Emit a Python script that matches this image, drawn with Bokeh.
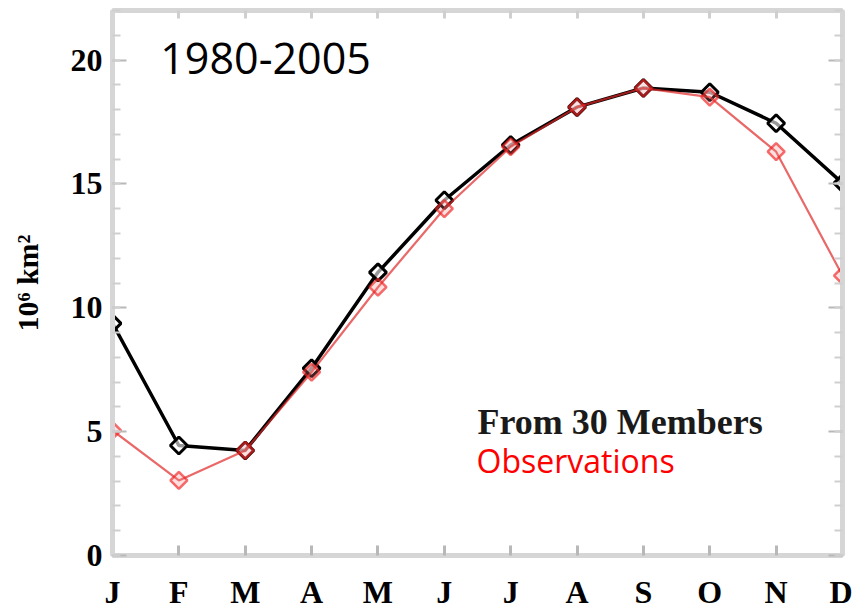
import math
from bokeh.plotting import figure
from bokeh.models import Range1d, FixedTicker, LinearAxis, Label, ColumnDataSource
from bokeh.embed import file_html
from bokeh.resources import INLINE

# Monthly mean sea-ice extent (10^6 km^2), 1980-2005
months = ["J", "F", "M", "A", "M", "J", "J", "A", "S", "O", "N", "D"]
month_idx = list(range(12))
members_mean = [9.37, 4.44, 4.24, 7.56, 11.43, 14.34, 16.57, 18.10, 18.87, 18.70, 17.45, 15.03]
observations = [5.05, 3.03, 4.24, 7.40, 10.83, 14.00, 16.50, 18.10, 18.87, 18.50, 16.30, 11.30]

y_major = [0, 5, 10, 15, 20]
y_minor = list(range(0, 23))

FRAME = "#d6d6d6"
TICK = "#b8b8b8"
SERIF = "Liberation Serif"

p = figure(width=852, height=615, output_backend="svg", toolbar_location=None,
           x_range=Range1d(0, 11), y_range=Range1d(0, 22),
           min_border_left=112, min_border_right=10, min_border_top=10,
           min_border_bottom=60, x_axis_location="below", y_axis_location="left")
p.background_fill_color = "white"
p.border_fill_color = "white"
p.outline_line_color = FRAME
p.outline_line_width = 4
p.xgrid.visible = False
p.ygrid.visible = False

# bottom month axis
xa = p.xaxis[0]
xa.ticker = FixedTicker(ticks=month_idx)
xa.major_label_overrides = {i: m for i, m in zip(month_idx, months)}
xa.major_label_text_font = SERIF
xa.major_label_text_font_style = "bold"
xa.major_label_text_font_size = "32px"
xa.major_label_text_color = "black"
xa.major_label_standoff = 18
xa.axis_line_color = FRAME
xa.axis_line_width = 5
xa.major_tick_in = 10
xa.major_tick_out = 0
xa.major_tick_line_color = TICK
xa.major_tick_line_width = 3
xa.minor_tick_line_color = None

# left value axis
ya = p.yaxis[0]
ya.ticker = FixedTicker(ticks=y_major, minor_ticks=y_minor)
ya.major_label_text_font = SERIF
ya.major_label_text_font_style = "bold"
ya.major_label_text_font_size = "32px"
ya.major_label_text_color = "black"
ya.major_label_standoff = 10
ya.axis_label = "10⁶ km²"
ya.axis_label_text_font = SERIF
ya.axis_label_text_font_style = "bold"
ya.axis_label_text_font_size = "30px"
ya.axis_label_text_color = "black"
ya.axis_label_standoff = 24
ya.axis_line_color = FRAME
ya.axis_line_width = 5
ya.major_tick_in = 14
ya.major_tick_out = 0
ya.minor_tick_in = 8
ya.minor_tick_out = 0
ya.major_tick_line_color = TICK
ya.major_tick_line_width = 2
ya.minor_tick_line_color = "#cfcfcf"
ya.minor_tick_line_width = 2

# mirrored ticks on the right and top edges, without labels
ra = LinearAxis(ticker=FixedTicker(ticks=y_major, minor_ticks=y_minor),
                major_label_overrides={t: "" for t in y_major},
                axis_line_color=FRAME, axis_line_width=5,
                major_tick_in=14, major_tick_out=0, minor_tick_in=8, minor_tick_out=0,
                major_tick_line_color=TICK, major_tick_line_width=2,
                minor_tick_line_color="#cfcfcf", minor_tick_line_width=2,
                major_label_standoff=0)
p.add_layout(ra, "right")
ta = LinearAxis(ticker=FixedTicker(ticks=month_idx),
                major_label_overrides={t: "" for t in month_idx},
                axis_line_color=FRAME, axis_line_width=5, major_tick_in=8,
                major_tick_out=0, major_tick_line_color="#cfcfcf",
                major_tick_line_width=3, minor_tick_line_color=None,
                major_label_standoff=0)
p.add_layout(ta, "above")

src = ColumnDataSource(dict(x=month_idx, members=members_mean, obs=observations))

# ensemble mean (black)
p.line("x", "members", source=src, line_color="black", line_width=3.5)
p.scatter("x", "members", source=src, marker="square", angle=math.pi / 4, size=12,
          fill_color="white", fill_alpha=0.6, line_color="black", line_width=3)

# observations (red, drawn on top)
p.line("x", "obs", source=src, line_color="#e02828", line_alpha=0.7, line_width=2.2)
p.scatter("x", "obs", source=src, marker="square", angle=math.pi / 4, size=12,
          fill_color="#ff8080", fill_alpha=0.25, line_color="#f02020",
          line_alpha=0.65, line_width=2.5)

p.add_layout(Label(x=0.72, y=20.06, text="1980-2005", text_font="Open Sans",
                   text_font_size="43px", text_color="black",
                   text_baseline="alphabetic", text_align="left"))
p.add_layout(Label(x=5.50, y=5.39, text="From 30 Members", text_font=SERIF,
                   text_font_style="bold", text_font_size="36px",
                   text_color="#1a1a1a", text_baseline="alphabetic", text_align="left"))
p.add_layout(Label(x=5.485, y=3.84, text="Observations", text_font="Open Sans",
                   text_font_size="32px", text_color="#ff0000",
                   text_baseline="alphabetic", text_align="left"))

open("out.html", "w").write(file_html(p, INLINE))
